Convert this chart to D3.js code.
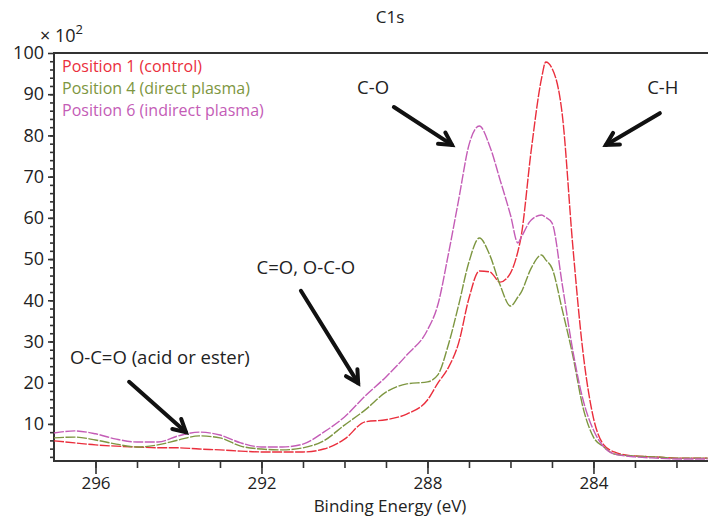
<!DOCTYPE html>
<html>
<head>
<meta charset="utf-8">
<script src="https://cdn.jsdelivr.net/npm/d3@7"></script>
<style>
  body { margin: 0; background: #fff; }
  text { font-family: "Open Sans", "Noto Sans", sans-serif; }
</style>
</head>
<body>
<svg id="chart"></svg>
<script>
const width = 708;
const height = 519;

// binding energy grid (eV), high to low
const energy = [297, 296.5, 296, 295.5, 295, 294.5, 294, 293.5, 293, 292.5, 292, 291.5, 291, 290.5, 290,
  289.5, 289, 288.5, 288, 287.75, 287.5, 287.25, 287, 286.75, 286.5, 286.25, 286, 285.82, 285.75, 285.5,
  285.25, 285.15, 285, 284.75, 284.5, 284.25, 284, 283.75, 283.5, 283, 282.5, 282, 281.25];

// counts x 10^2
const pos1 = [5.9, 5.4, 4.9, 4.6, 4.4, 4.2, 4.2, 3.9, 3.7, 3.4, 3.2, 3.2, 3.2, 3.9, 6.3,
  10.5, 11.0, 12.4, 15.8, 19.9, 23.6, 29.6, 40.5, 47.1, 46.9, 44.4, 46.6, 51.9, 55.1, 76.4,
  93.9, 97.8, 96.3, 84.9, 53.4, 27.2, 11.4, 4.9, 3.2, 2.2, 2.0, 1.7, 1.7];
const pos4 = [6.6, 6.8, 6.1, 5.1, 4.4, 4.9, 6.1, 7.1, 6.6, 4.6, 3.9, 3.7, 4.2, 5.9, 9.7,
  13.4, 17.7, 19.7, 20.2, 21.9, 29.1, 38.8, 49.3, 55.1, 51.0, 43.7, 38.6, 40.8, 41.8, 47.8,
  51.0, 49.8, 47.8, 37.6, 26.7, 13.9, 6.8, 4.4, 2.7, 2.2, 2.0, 1.7, 1.7];
const pos6 = [7.8, 8.3, 7.6, 6.3, 5.6, 5.6, 7.1, 8.0, 7.3, 5.4, 4.4, 4.4, 5.1, 8.0, 11.7,
  16.8, 21.4, 26.7, 32.8, 38.9, 51.0, 64.3, 77.7, 82.3, 77.4, 69.2, 60.7, 53.9, 55.1, 59.5,
  60.7, 60.1, 58.8, 43.7, 27.9, 15.8, 8.5, 4.4, 2.7, 2.0, 1.7, 1.5, 1.5];

const seriesNames = ['Position 1 (control)', 'Position 4 (direct plasma)', 'Position 6 (indirect plasma)'];
const seriesColors = ['#ea2e3c', '#7d9640', '#c45cb6'];
const seriesValues = [pos1, pos4, pos6];

const xMajor = [296, 292, 288, 284];
const xMinor = d3.range(282, 297, 1);
const yMajor = d3.range(10, 101, 10);
const yMinor = d3.range(2, 100, 2);

// peak labels with arrows, in data units (energy, counts)
const notes = [
  { text: 'C-O', at: [289.31, 91.5], from: [288.81, 86.9], to: [287.41, 77.7] },
  { text: 'C-H', at: [282.33, 91.5], from: [282.40, 85.4], to: [283.70, 77.7] },
  { text: 'C=O, O-C-O', at: [290.93, 47.8], from: [291.05, 42.3], to: [289.67, 19.9] },
  { text: 'O-C=O (acid or ester)', at: [294.45, 26.0], from: [295.19, 20.2], to: [293.82, 8.0] }
];

const margin = { top: 53, right: 0, bottom: 58, left: 54 };

const x = d3.scaleLinear().domain([297, 281.24]).range([margin.left, width]);
const y = d3.scaleLinear().domain([1, 100]).range([height - margin.bottom, margin.top]);

const svg = d3.select('#chart').attr('width', width).attr('height', height);

// axes
const bottomY = y(1);
svg.append('g')
  .attr('transform', `translate(0,${bottomY})`)
  .call(d3.axisBottom(x).tickValues(xMinor).tickSize(7).tickFormat(''))
  .call(g => g.select('.domain').remove());
svg.append('g')
  .attr('transform', `translate(0,${bottomY})`)
  .call(d3.axisBottom(x).tickValues(xMajor).tickSize(13).tickPadding(3).tickFormat(d3.format('d')))
  .call(g => g.select('.domain').remove())
  .call(g => g.selectAll('text').attr('font-size', 17).attr('fill', '#222'));

svg.append('g')
  .attr('transform', `translate(${margin.left},0)`)
  .call(d3.axisLeft(y).tickValues(yMinor).tickSize(4).tickFormat(''))
  .call(g => g.select('.domain').remove());
svg.append('g')
  .attr('transform', `translate(${margin.left},0)`)
  .call(d3.axisLeft(y).tickValues(yMajor).tickSize(6).tickPadding(4))
  .call(g => g.select('.domain').remove())
  .call(g => g.selectAll('text').attr('font-size', 18).attr('fill', '#222'));

svg.selectAll('.tick line').attr('stroke', '#333').attr('stroke-width', 1.6);

// frame: top, left, bottom
svg.append('path')
  .attr('d', `M${width},${y(100)}H${margin.left}V${bottomY}H${width}`)
  .attr('fill', 'none')
  .attr('stroke', '#333')
  .attr('stroke-width', 2);

// spectra
const line = d3.line()
  .x(d => x(d[0]))
  .y(d => y(d[1]))
  .curve(d3.curveMonotoneX);

seriesValues.forEach((vals, i) => {
  const pts = energy.map((e, j) => [e, vals[j]]);
  svg.append('path')
    .datum(pts)
    .attr('d', line)
    .attr('fill', 'none')
    .attr('stroke', seriesColors[i])
    .attr('stroke-width', 1.4)
    .attr('stroke-dasharray', '10 1.5');
});

// legend
svg.append('g').selectAll('text')
  .data(seriesNames)
  .join('text')
  .attr('x', 62)
  .attr('y', (d, i) => 72 + i * 22)
  .attr('font-size', 16)
  .attr('fill', (d, i) => seriesColors[i])
  .text(d => d);

// title and axis labels
svg.append('text')
  .attr('x', 390).attr('y', 23)
  .attr('text-anchor', 'middle')
  .attr('font-size', 17).attr('fill', '#222')
  .text('C1s');

svg.append('text')
  .attr('x', 390).attr('y', 512)
  .attr('text-anchor', 'middle')
  .attr('font-size', 17).attr('fill', '#222')
  .text('Binding Energy (eV)');

const mult = svg.append('text')
  .attr('x', 40).attr('y', 42)
  .attr('font-size', 18).attr('fill', '#222');
mult.append('tspan').text('\u00d7 10');
mult.append('tspan').attr('dy', -8).attr('font-size', 13).text('2');

// annotations
const ann = svg.append('g');
notes.forEach(n => {
  ann.append('text')
    .attr('x', x(n.at[0])).attr('y', y(n.at[1]) + 6)
    .attr('text-anchor', 'middle')
    .attr('font-size', 18.5).attr('fill', '#222')
    .text(n.text);

  const x0 = x(n.from[0]), y0 = y(n.from[1]);
  const x1 = x(n.to[0]), y1 = y(n.to[1]);
  const ang = Math.atan2(y1 - y0, x1 - x0);
  const hl = 14, spread = 0.5;
  const h1 = [x1 - hl * Math.cos(ang - spread), y1 - hl * Math.sin(ang - spread)];
  const h2 = [x1 - hl * Math.cos(ang + spread), y1 - hl * Math.sin(ang + spread)];
  ann.append('path')
    .attr('d', `M${x0},${y0}L${x1},${y1}`)
    .attr('stroke', '#111').attr('stroke-width', 4).attr('stroke-linecap', 'round');
  ann.append('path')
    .attr('d', `M${h1[0]},${h1[1]}L${x1},${y1}L${h2[0]},${h2[1]}`)
    .attr('fill', 'none')
    .attr('stroke', '#111').attr('stroke-width', 4)
    .attr('stroke-linejoin', 'miter').attr('stroke-linecap', 'round');
});
</script>
</body>
</html>
